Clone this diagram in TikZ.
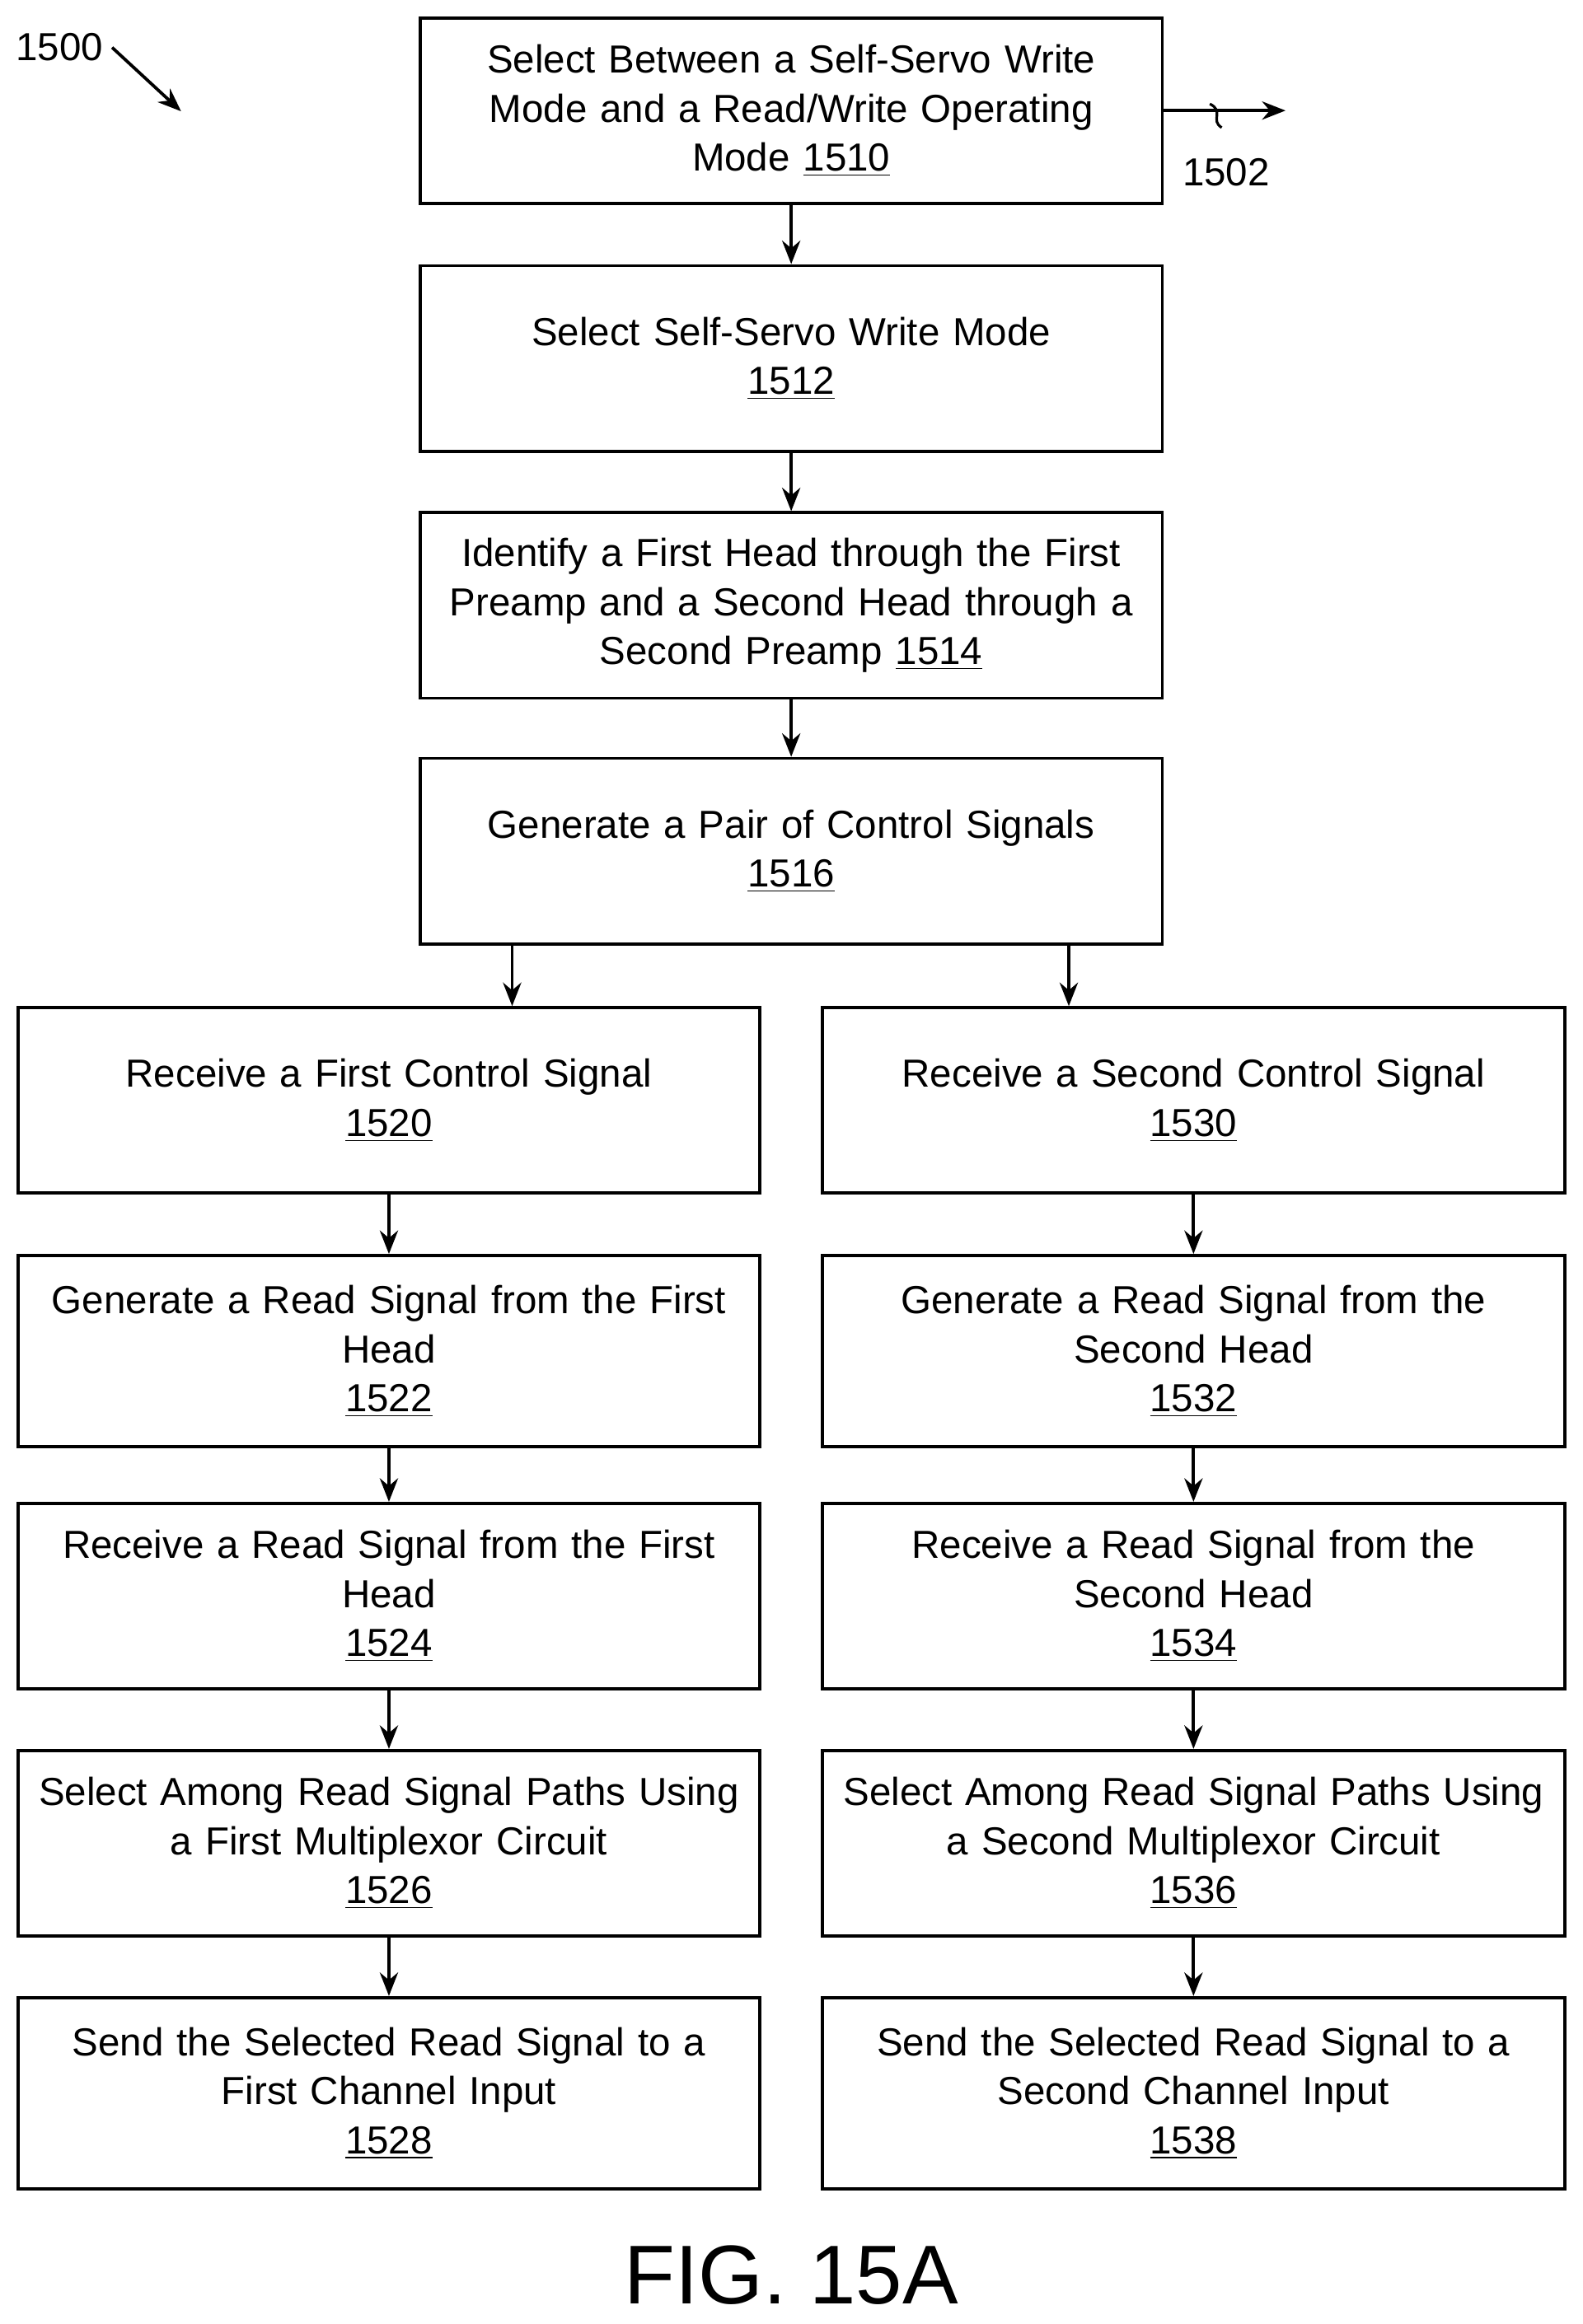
\documentclass[tikz,border=0pt]{standalone}
\usepackage{fontspec}
\setmainfont{Liberation Sans}
\usetikzlibrary{arrows.meta}
\tikzset{
  procbox/.style={draw, line width=1.2pt, minimum width=10cm, minimum height=2.5cm,
    align=center, text width=9.6cm, inner sep=0.1cm, font=\fontsize{15}{18.8}\selectfont},
  flow/.style={-{Stealth[length=9pt,width=7pt]}, line width=1.2pt}
}
\newcommand{\refnum}[1]{\underline{#1}}
\begin{document}
\begin{tikzpicture}
            \useasboundingbox (0,0) rectangle (21.32,-31.32);
            % Top column
            \node[procbox] (s1510) at (10.66,-1.49) {Select Between a Self-Servo Write\\Mode and a Read/Write Operating\\Mode \refnum{1510}};
            \node[procbox] (s1512) at (10.66,-4.83) {Select Self-Servo Write Mode\\\refnum{1512}};
            \node[procbox] (s1514) at (10.66,-8.16) {Identify a First Head through the First\\Preamp and a Second Head through a\\Second Preamp \refnum{1514}};
            \node[procbox] (s1516) at (10.66,-11.47) {Generate a Pair of Control Signals\\\refnum{1516}};
            % Left column
            \node[procbox] (s1520) at (5.24,-14.83) {Receive a First Control Signal\\\refnum{1520}};
            \node[procbox, minimum height=2.58cm] (s1522) at (5.24,-18.21) {Generate a Read Signal from the First\\Head\\\refnum{1522}};
            \node[procbox] (s1524) at (5.24,-21.51) {Receive a Read Signal from the First\\Head\\\refnum{1524}};
            \node[procbox] (s1526) at (5.24,-24.84) {Select Among Read Signal Paths Using\\a First Multiplexor Circuit\\\refnum{1526}};
            \node[procbox, minimum height=2.58cm] (s1528) at (5.24,-28.21) {Send the Selected Read Signal to a\\First Channel Input\\\refnum{1528}};
            % Right column
            \node[procbox] (s1530) at (16.08,-14.83) {Receive a Second Control Signal\\\refnum{1530}};
            \node[procbox, minimum height=2.58cm] (s1532) at (16.08,-18.21) {Generate a Read Signal from the\\Second Head\\\refnum{1532}};
            \node[procbox] (s1534) at (16.08,-21.51) {Receive a Read Signal from the\\Second Head\\\refnum{1534}};
            \node[procbox] (s1536) at (16.08,-24.84) {Select Among Read Signal Paths Using\\a Second Multiplexor Circuit\\\refnum{1536}};
            \node[procbox, minimum height=2.58cm] (s1538) at (16.08,-28.21) {Send the Selected Read Signal to a\\Second Channel Input\\\refnum{1538}};
            % Arrows
            \draw[flow] (s1510) -- (s1512);
            \draw[flow] (s1512) -- (s1514);
            \draw[flow] (s1514) -- (s1516);
            \coordinate (splitL) at ([xshift=-3.76cm]s1516.south);
            \coordinate (splitR) at ([xshift=3.74cm]s1516.south);
            \draw[flow] (splitL) -- (splitL |- s1520.north);
            \draw[flow] (splitR) -- (splitR |- s1530.north);
            \foreach \a/\b in {1520/1522,1522/1524,1524/1526,1526/1528,1530/1532,1532/1534,1534/1536,1536/1538}
              \draw[flow] (s\a) -- (s\b);
            % Exit 1502
            \coordinate (exit) at (17.32,-1.49);
            \draw[flow] (s1510.east) -- (exit);
            \draw[line width=1pt] (16.30,-1.40) .. controls (16.50,-1.50) and (16.30,-1.62) .. (16.46,-1.72);
            \node[font=\fontsize{15}{18}\selectfont] (n1502) at (16.52,-2.32) {1502};
            % Figure number
            \node[font=\fontsize{15}{18}\selectfont] (n1500) at (0.8,-0.64) {1500};
            \coordinate (tip1500) at (2.44,-1.50);
            \draw[flow] (n1500.east) -- (tip1500);
            \node[font=\fontsize{32}{36}\selectfont] (fig) at (10.66,-30.66) {FIG. 15A};
        \end{tikzpicture}
\end{document}
